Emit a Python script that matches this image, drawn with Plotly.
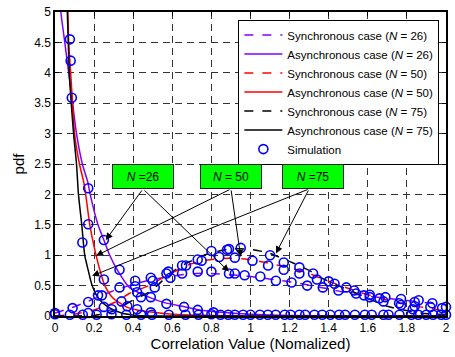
import plotly.graph_objects as go

# ---------------- data ----------------
async26_x = [0.02, 0.03, 0.05, 0.07, 0.09, 0.11, 0.14, 0.168, 0.18, 0.22, 0.25, 0.28, 0.32, 0.38, 0.48, 0.56, 0.65, 0.74, 0.82, 0.9, 1.0, 1.2, 1.5, 2.0]
async26_y = [5.5, 5.0, 4.5, 4.0, 3.5, 3.0, 2.5, 2.2, 2.0, 1.5, 1.25, 1.0, 0.75, 0.47, 0.31, 0.22, 0.16, 0.1, 0.07, 0.05, 0.03, 0.01, 0.0, 0.0]

async50_x = [0.06, 0.066, 0.07, 0.08, 0.09, 0.10, 0.125, 0.147, 0.157, 0.178, 0.21, 0.23, 0.255, 0.295, 0.365, 0.42, 0.48, 0.6, 0.8, 1.0, 2.0]
async50_y = [5.5, 5.0, 4.5, 4.0, 3.5, 3.0, 2.5, 2.2, 2.0, 1.5, 1.0, 0.75, 0.5, 0.3, 0.15, 0.1, 0.07, 0.03, 0.01, 0.0, 0.0]

async75_x = [0.06, 0.063, 0.068, 0.073, 0.083, 0.095, 0.11, 0.12, 0.137, 0.152, 0.17, 0.19, 0.22, 0.27, 0.34, 0.42, 0.6, 1.0, 2.0]
async75_y = [5.5, 5.0, 4.5, 4.0, 3.5, 3.0, 2.5, 2.0, 1.5, 1.0, 0.75, 0.5, 0.3, 0.15, 0.05, 0.01, 0.0, 0.0, 0.0]

sync26_x = [0, 0.08, 0.16, 0.24, 0.32, 0.38, 0.46, 0.55, 0.63, 0.72, 0.8, 0.89, 0.97, 1.05, 1.14, 1.23, 1.36, 1.53, 1.7, 1.87, 2.0]
sync26_y = [0.05, 0.13, 0.23, 0.34, 0.44, 0.5, 0.57, 0.63, 0.67, 0.70, 0.70, 0.68, 0.66, 0.63, 0.59, 0.55, 0.47, 0.36, 0.29, 0.23, 0.18]

sync50_x = [0, 0.1, 0.2, 0.31, 0.38, 0.48, 0.58, 0.68, 0.78, 0.89, 0.99, 1.09, 1.19, 1.3, 1.36, 1.53, 1.7, 1.87, 2.0]
sync50_y = [0, 0.03, 0.1, 0.23, 0.37, 0.5, 0.68, 0.84, 0.92, 0.95, 0.93, 0.87, 0.8, 0.7, 0.62, 0.42, 0.26, 0.15, 0.08]

sync75_x = [0, 0.2, 0.28, 0.33, 0.38, 0.43, 0.48, 0.53, 0.58, 0.63, 0.68, 0.78, 0.89, 0.99, 1.09, 1.19, 1.3, 1.36, 1.53, 1.7, 1.87, 2.0]
sync75_y = [0, 0.01, 0.06, 0.13, 0.23, 0.31, 0.39, 0.52, 0.68, 0.79, 0.88, 1.02, 1.1, 1.1, 1.04, 0.91, 0.75, 0.63, 0.39, 0.16, 0.05, 0.02]

sim_x = [0.076, 0.08, 0.086,
         0.09, 0.14, 0.17, 0.17, 0.17, 0.17, 0.22, 0.24, 0.25, 0.25, 0.25, 0.29, 0.33, 0.33, 0.34, 0.37,
         0.41, 0.41, 0.42, 0.42, 0.44, 0.49, 0.49, 0.5, 0.51, 0.49, 0.57, 0.57, 0.58, 0.59, 0.65, 0.65,
         0.66, 0.67, 0.73, 0.73, 0.73, 0.75, 0.8, 0.8, 0.81, 0.84, 0.88, 0.89, 0.89, 0.92, 0.95, 0.92,
         0.97, 1.01, 1.05, 1.09, 1.1, 1.13, 1.17, 1.17, 1.21, 1.25, 1.25, 1.29, 1.32, 1.34, 1.37, 1.4,
         1.43, 1.45, 1.49, 1.53, 1.54, 1.58, 1.61, 1.61, 1.66, 1.69, 1.68, 1.76, 1.77, 1.77, 1.84, 1.86,
         1.84, 1.83, 1.93, 1.92, 1.98, 2.0,
         0.0, 0.0, 0.076, 0.142, 0.213, 0.289, 0.365, 0.44, 0.496, 0.582, 0.668, 0.734, 0.8, 0.846, 0.886,
         0.92, 0.962, 1.0, 1.048, 1.089, 1.129, 1.175, 1.205, 1.25, 1.28, 1.327, 1.367, 1.408, 1.453,
         1.484, 1.534, 1.585, 1.62, 1.68, 1.706, 1.762, 1.823, 1.858, 1.899, 1.934, 1.975, 2.0]
sim_y = [4.55, 4.2, 3.59,
         0.13, 1.21, 1.51, 2.1, 0.23, 0.05, 0.34, 0.34, 1.25, 0.6, 0.15, 0.11, 0.76, 0.47, 0.24, 0.16,
         0.58, 0.49, 0.39, 0.11, 0.31, 0.31, 0.63, 0.58, 0.47, 0.06, 0.7, 0.2, 0.73, 0.63, 0.7, 0.83,
         0.15, 0.83, 0.93, 0.73, 0.1, 0.91, 1.07, 0.73, 0.06, 0.97, 1.09, 0.7, 1.1, 0.96, 1.12, 0.7,
         0.67, 0.91, 0.65, 0.83, 1.0, 0.58, 0.88, 0.76, 0.55, 0.8, 0.7, 0.5, 0.7, 0.6, 0.47, 0.57,
         0.53, 0.42, 0.47, 0.42, 0.37, 0.34, 0.31, 0.35, 0.29, 0.31, 0.24, 0.21, 0.18, 0.28, 0.23, 0.26,
         0.16, 0.11, 0.21, 0.15, 0.13, 0.15,
         0.03, 0.05, 0.02, 0.02, 0.02, 0.03, 0.02, 0.02, 0.02, 0.02, 0.02, 0.02, 0.03, 0.02, 0.02,
         0.02, 0.02, 0.02, 0.02, 0.02, 0.02, 0.02, 0.02, 0.02, 0.02, 0.02, 0.02, 0.02, 0.02,
         0.02, 0.02, 0.02, 0.02, 0.02, 0.02, 0.02, 0.02, 0.02, 0.02, 0.02, 0.02, 0.02]

x_ticks = [0, 0.2, 0.4, 0.6, 0.8, 1, 1.2, 1.4, 1.6, 1.8, 2]
x_ticktext = ["0", "0.2", "0.4", "0.6", "0.8", "1", "1.2", "1.4", "1.6", "1.8", "2"]
y_ticks = [0, 0.5, 1, 1.5, 2, 2.5, 3, 3.5, 4, 4.5, 5]
y_ticktext = ["0", "0.5", "1", "1.5", "2", "2.5", "3", "3.5", "4", "4.5", "5"]

# annotation boxes: (label, x, y)
box_labels = ["<i>N</i> =26", "<i>N</i> = 50", "<i>N</i> =75"]
box_x = [0.45, 0.90, 1.32]
box_y = [2.30, 2.30, 2.30]
# arrows: tail (box bottom) -> head
arrow_tail_x = [0.45, 0.45, 0.90, 0.90, 1.30, 1.30]
arrow_tail_y = [2.09, 2.09, 2.09, 2.09, 2.09, 2.09]
arrow_head_x = [0.26, 0.89, 0.21, 0.95, 0.19, 1.13]
arrow_head_y = [1.25, 0.73, 0.99, 0.97, 0.66, 1.03]

PURPLE = "#8000ff"
RED = "#ff0000"
BLACK = "#000000"
BLUE = "#0000ff"

fig = go.Figure()
series = [
    ("Synchronous case (<i>N</i> = 26)", sync26_x, sync26_y, PURPLE, "dash"),
    ("Asynchronous case (<i>N</i> = 26)", async26_x, async26_y, PURPLE, "solid"),
    ("Synchronous case (<i>N</i> = 50)", sync50_x, sync50_y, RED, "dash"),
    ("Asynchronous case (<i>N</i> = 50)", async50_x, async50_y, RED, "solid"),
    ("Synchronous case (<i>N</i> = 75)", sync75_x, sync75_y, BLACK, "dash"),
    ("Asynchronous case (<i>N</i> = 75)", async75_x, async75_y, BLACK, "solid"),
]
for name, xs, ys, col, dash in series:
    fig.add_trace(go.Scatter(x=xs, y=ys, mode="lines", name=name,
                             line=dict(color=col, width=1.5, dash=dash, shape="spline", smoothing=0.6)))

fig.add_trace(go.Scatter(x=sim_x, y=sim_y, mode="markers", name="Simulation", cliponaxis=False,
                         marker=dict(symbol="circle-open", size=9, color=BLUE, line=dict(width=1.6, color=BLUE))))

annotations = []
for t, hx, hy in zip(range(len(arrow_head_x)), arrow_head_x, arrow_head_y):
    annotations.append(dict(x=hx, y=hy, ax=arrow_tail_x[t], ay=arrow_tail_y[t], xref="x", yref="y",
                            axref="x", ayref="y", text="", showarrow=True, arrowhead=2, arrowsize=1.4,
                            arrowwidth=1, arrowcolor="black"))
for lab, bx, by in zip(box_labels, box_x, box_y):
    annotations.append(dict(x=bx, y=by, xref="x", yref="y", text=lab, showarrow=False,
                            bgcolor="#00ff00", bordercolor="#222222", borderwidth=1, width=58, height=21,
                            font=dict(size=12, color="black", family="Liberation Sans, Arial, sans-serif")))

fig.update_layout(
    width=455, height=357,
    margin=dict(l=55, r=5, t=8, b=41),
    paper_bgcolor="white", plot_bgcolor="white",
    font=dict(family="Liberation Sans, Arial, sans-serif", color="black", size=12),
    annotations=annotations,
    legend=dict(x=0.983, y=0.975, xanchor="right", yanchor="top", bgcolor="white",
                bordercolor="black", borderwidth=1, font=dict(size=11.5), tracegroupgap=0,
                itemwidth=38),
    showlegend=True,
)
fig.update_xaxes(range=[0, 2], tickvals=x_ticks, ticktext=x_ticktext, showline=True, linecolor="black",
                 linewidth=1.5, mirror="ticks", ticks="inside", ticklen=4, tickcolor="black",
                 showgrid=True, gridcolor="#333333", gridwidth=1, griddash="7px,5px", zeroline=False,
                 title=dict(text="Correlation Value (Nomalized)", font=dict(size=15), standoff=3),
                 tickfont=dict(size=12))
fig.update_yaxes(range=[0, 5], tickvals=y_ticks, ticktext=y_ticktext, showline=True, linecolor="black",
                 linewidth=1.5, mirror="ticks", ticks="inside", ticklen=4, tickcolor="black",
                 showgrid=True, gridcolor="#333333", gridwidth=1, griddash="7px,5px", zeroline=False,
                 title=dict(text="pdf", font=dict(size=15), standoff=6),
                 tickfont=dict(size=12))

fig.write_html("out.html")
